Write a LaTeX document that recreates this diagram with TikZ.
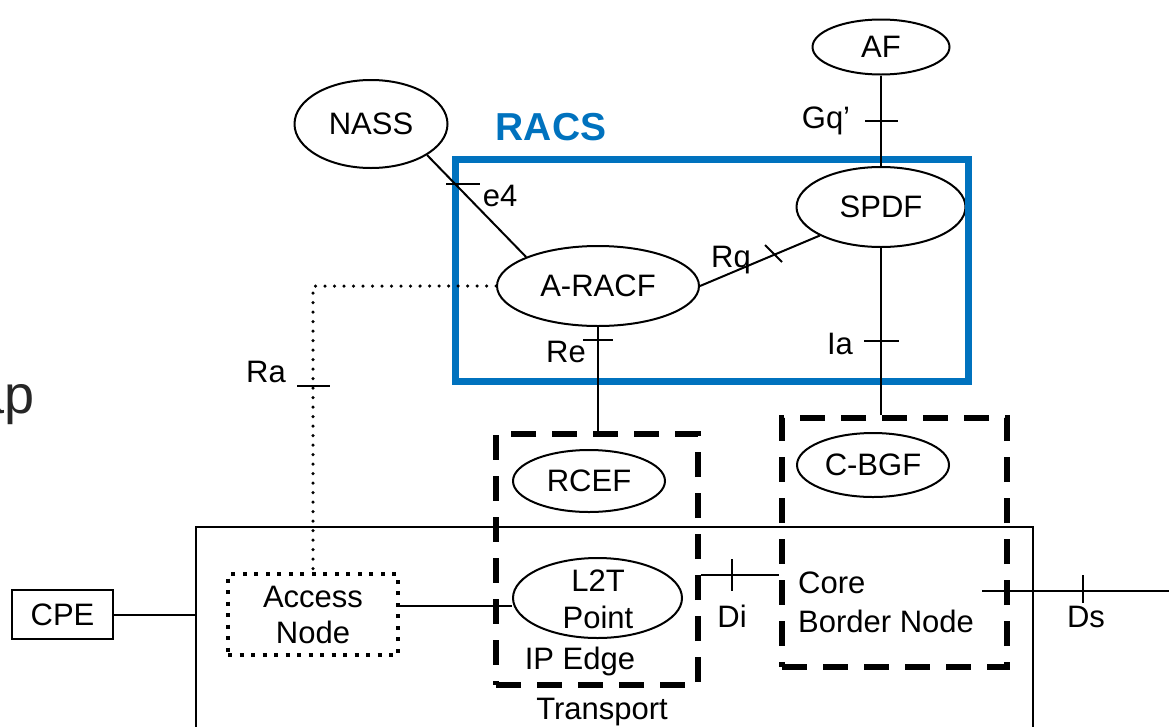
\documentclass[tikz,border=0pt]{standalone}
\usepackage{fontspec}
\setmainfont{Liberation Sans}
\usetikzlibrary{shapes.geometric}
\definecolor{racsblue}{RGB}{0,114,190}
\definecolor{graytext}{RGB}{38,38,38}
\begin{document}
\begin{tikzpicture}[x=1pt,y=-1pt,
  txt/.style={font=\fontsize{31}{37}\selectfont, inner sep=0pt},
  ell/.style={ellipse, draw, line width=2pt, inner sep=0pt, font=\fontsize{31}{37}\selectfont},
  link/.style={line width=2pt},
  tickmark/.style={line width=2pt},
  dbox/.style={draw, line width=6pt, dash pattern=on 25pt off 16pt, inner sep=0pt},
  racsbox/.style={draw=racsblue, line width=7pt, inner sep=0pt},
  plainbox/.style={draw, line width=2pt, inner sep=0pt},
  accbox/.style={draw, line width=4pt, dash pattern=on 4pt off 7.5pt, inner sep=0pt, align=center, font=\fontsize{31}{36}\selectfont},
  dotline/.style={line width=3.5pt, line cap=round, dash pattern=on 0pt off 9.5pt}
]
\useasboundingbox (0,0) rectangle (1169,726);
\clip (0,0) rectangle (1169,726);

% clipped left text
\node[txt, font=\fontsize{54}{60}\selectfont, text=graytext, anchor=base east] (ap) at (35,413) {ap};

% ellipses and boxes
\node[ell, minimum width=153pt, minimum height=88pt] (nass) at (371,124) {NASS};
\node[ell, minimum width=137pt, minimum height=55pt] (af) at (881,47) {AF};
\node[ell, minimum width=169pt, minimum height=80pt] (spdf) at (881,207) {SPDF};
\node[ell, minimum width=202pt, minimum height=80pt] (aracf) at (598,286) {A-RACF};
\node[racsbox, minimum width=513pt, minimum height=222pt] (racs) at (711.5,270) {};
\node[txt, font=\fontsize{39}{44}\selectfont\bfseries, text=racsblue, anchor=base] (racslbl) at (551,140) {RACS};

\node[dbox, minimum width=202pt, minimum height=251pt] (rcefbox) at (597,559.5) {};
\node[ell, minimum width=152pt, minimum height=62pt] (rcef) at (589,481) {RCEF};
\node[dbox, minimum width=225pt, minimum height=249pt] (cbgfbox) at (894.5,542.5) {};
\node[ell, minimum width=152pt, minimum height=64pt] (cbgf) at (873,465) {C-BGF};

\node[plainbox, minimum width=837pt, minimum height=230pt] (transport) at (614.5,642) {};
\node[plainbox, minimum width=101pt, minimum height=49pt, font=\fontsize{31}{37}\selectfont] (cpe) at (62.5,614.5) {CPE};
\node[accbox, minimum width=170pt, minimum height=81pt] (access) at (313,614.5) {Access\\Node};
\node[ell, minimum width=169pt, minimum height=80pt] (l2t) at (597.5,598) {};
\node[txt, align=center, font=\fontsize{31}{37}\selectfont] (l2ttext) at (598,599) {L2T\\Point};

% text labels
\node[txt, anchor=base] (ipedge) at (580,669) {IP Edge};
\node[txt, anchor=base] (transportlbl) at (602,719) {Transport};
\node[txt, anchor=base west, align=left, font=\fontsize{31}{39}\selectfont] (cbn) at (798,632) {Core\\Border Node};
\node[txt, anchor=base] (e4lbl) at (500,206) {e4};
\node[txt, anchor=base] (gqlbl) at (826,128) {Gq’};
\node[txt, anchor=base] (rqlbl) at (731,267) {Rq};
\node[txt, anchor=base] (ialbl) at (840,354) {Ia};
\node[txt, anchor=base] (relbl) at (566,362) {Re};
\node[txt, anchor=base] (ralbl) at (266,382) {Ra};
\node[txt, anchor=base] (dilbl) at (732,627) {Di};
\node[txt, anchor=base] (dslbl) at (1086,627) {Ds};

% connectors
\draw[link] (nass.-29) -- (aracf.158);
\draw[link] (aracf.east) -- (spdf.205);
\draw[link] (af.south) -- (spdf.north);
\draw[link] (spdf.south) -- (spdf.south |- cbgfbox.north);
\draw[link] (aracf.south) -- (aracf.south |- rcefbox.north);
\draw[dotline] (aracf.west) -| (access.north);
\draw[link] (cpe.east) -- (cpe.east -| transport.west);
\draw[link] ([yshift=8.5pt]access.east) -- ([yshift=8.5pt]access.east -| l2t.west);
\draw[link] (rcefbox.east |- 0,575) -- (cbgfbox.west |- 0,575);
\coordinate (dsstart) at (982,591);
\coordinate (dsend) at (1169,591);
\draw[link] (dsstart) -- (dsend);

% ticks
\draw[tickmark] (446,184) -- (480,184);
\draw[tickmark] (865,121) -- (898,121);
\draw[tickmark] (765,245) -- (782,262);
\draw[tickmark] (864,341) -- (899,341);
\draw[tickmark] (583,340) -- (613,340);
\draw[tickmark] (297,386) -- (330,386);
\draw[tickmark] (732,559) -- (732,591);
\draw[tickmark] (1083,575) -- (1083,603);
\end{tikzpicture}
\end{document}
